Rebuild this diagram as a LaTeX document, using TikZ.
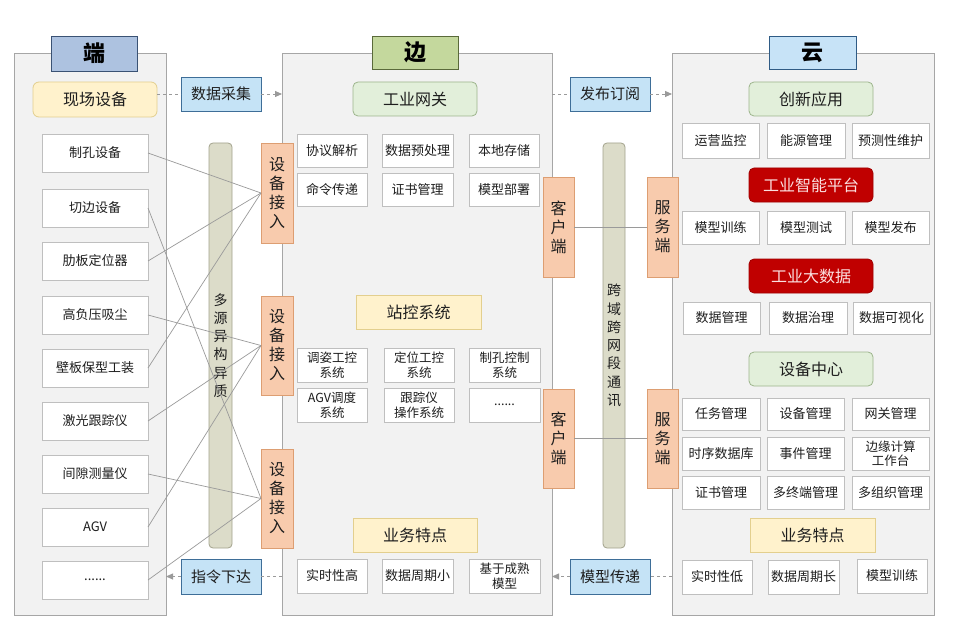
\documentclass[tikz,border=0pt]{standalone}
\usepackage{fontspec}
\setmainfont{Noto Sans CJK SC}
\usetikzlibrary{arrows.meta}
\definecolor{panelfill}{HTML}{F2F2F2}
\definecolor{paneldraw}{HTML}{A6A6A6}
\definecolor{boxdraw}{HTML}{BFBFBF}
\definecolor{txt}{HTML}{1E1E1E}
\definecolor{duanfill}{HTML}{ADC2E0}
\definecolor{duandraw}{HTML}{3A5274}
\definecolor{bianfill}{HTML}{C4D89D}
\definecolor{biandraw}{HTML}{5A6A3A}
\definecolor{yunfill}{HTML}{C7E3F7}
\definecolor{yundraw}{HTML}{2F5B85}
\definecolor{yelfill}{HTML}{FFF2CC}
\definecolor{yeldraw}{HTML}{E3CF8E}
\definecolor{grnfill}{HTML}{E2EFDA}
\definecolor{grndraw}{HTML}{9DB58C}
\definecolor{orgfill}{HTML}{F8CBAD}
\definecolor{orgdraw}{HTML}{DD9E72}
\definecolor{barfill}{HTML}{DCDCC9}
\definecolor{bardraw}{HTML}{A3A38D}
\definecolor{bluefill}{HTML}{C5E3F6}
\definecolor{bluedraw}{HTML}{3E6E98}
\definecolor{redfill}{HTML}{C00000}
\definecolor{reddraw}{HTML}{A00000}
\definecolor{redtxt}{HTML}{FBE0E0}
\definecolor{linegray}{HTML}{9A9A9A}
\newcommand\mybox[7]{\node[#6, minimum width={#4-#2}, minimum height={#5-#3}] (#1) at ({(#2+#4)/2},{(#3+#5)/2}) {#7};}
\begin{document}
\begin{tikzpicture}[x=1pt,y=-1pt,
  every node/.style={inner sep=0pt, outer sep=0pt, text=txt, align=center},
  panel/.style={draw=paneldraw, fill=panelfill, line width=0.8pt},
  titlebox/.style={line width=0.9pt, font=\fontsize{22}{24}\selectfont\bfseries, text=black},
  wbox/.style={draw=boxdraw, fill=white, line width=0.7pt, font=\fontsize{13}{15}\selectfont},
  wbox2/.style={wbox, font=\fontsize{12.5}{14.5}\selectfont},
  yelhead/.style={draw=yeldraw, fill=yelfill, line width=0.8pt, font=\fontsize{16}{18}\selectfont},
  grnhead/.style={draw=grndraw, fill=grnfill, line width=0.8pt, rounded corners=5pt, font=\fontsize{16}{18}\selectfont},
  redhead/.style={draw=reddraw, fill=redfill, line width=0.8pt, rounded corners=5pt, font=\fontsize{16}{18}\selectfont, text=redtxt},
  orgbox/.style={draw=orgdraw, fill=orgfill, line width=0.8pt, font=\fontsize{16}{19}\selectfont},
  barbox/.style={draw=bardraw, fill=barfill, line width=0.8pt, rounded corners=4pt, font=\fontsize{14}{18.3}\selectfont},
  bluebox/.style={draw=bluedraw, fill=bluefill, line width=0.8pt, font=\fontsize{15}{17}\selectfont},
  conn/.style={draw=linegray, line width=0.7pt},
  dashconn/.style={draw=linegray, line width=0.8pt, dash pattern=on 3pt off 3pt},
  dasharrow/.style={dashconn, -{Triangle[length=7pt,width=6pt,fill=linegray]}}
]
\useasboundingbox (0,0) rectangle (960,639);
\fill[white] (0,0) rectangle (960,639);

% ---------- panels ----------
\mybox{pleft}{14}{53}{166}{615}{panel}{}
\mybox{pmid}{282}{53}{552}{615}{panel}{}
\mybox{pright}{672}{53}{934}{615}{panel}{}

% ---------- titles ----------
\mybox{tleft}{51}{36}{137}{71}{titlebox, draw=duandraw, fill=duanfill}{端}
\mybox{tmid}{372}{36}{458}{69}{titlebox, draw=biandraw, fill=bianfill}{边}
\mybox{tright}{769}{36}{856}{69}{titlebox, draw=yundraw, fill=yunfill}{云}

% ---------- left column ----------
\mybox{xc}{33}{82}{157}{117}{yelhead, rounded corners=6pt}{现场设备}
\mybox{d1}{42}{134}{148}{172}{wbox}{制孔设备}
\mybox{d2}{42}{189}{148}{227}{wbox}{切边设备}
\mybox{d3}{42}{242}{148}{280}{wbox}{肋板定位器}
\mybox{d4}{42}{296}{148}{334}{wbox}{高负压吸尘}
\mybox{d5}{42}{349}{148}{387}{wbox}{壁板保型工装}
\mybox{d6}{42}{402}{148}{440}{wbox}{激光跟踪仪}
\mybox{d7}{42}{455}{148}{493}{wbox}{间隙测量仪}
\mybox{d8}{42}{508}{148}{546}{wbox}{AGV}
\mybox{d9}{42}{561}{148}{599}{wbox}{......}

\mybox{bar1}{209}{143}{232}{548}{barbox}{多\\源\\异\\构\\异\\质}
\mybox{a1}{261}{143}{293}{243}{orgbox}{设\\备\\接\\入}
\mybox{a2}{261}{296}{293}{395}{orgbox}{设\\备\\接\\入}
\mybox{a3}{261}{449}{293}{548}{orgbox}{设\\备\\接\\入}

\mybox{cj}{181}{77}{261}{111}{bluebox}{数据采集}
\mybox{zl}{181}{559}{261}{594}{bluebox}{指令下达}

% ---------- middle column ----------
\mybox{gw}{353}{82}{477}{116}{grnhead}{工业网关}
\mybox{g1}{297}{134}{367}{167}{wbox}{协议解析}
\mybox{g2}{382}{134}{453}{167}{wbox}{数据预处理}
\mybox{g3}{469}{134}{539}{167}{wbox}{本地存储}
\mybox{g4}{297}{173}{367}{206}{wbox}{命令传递}
\mybox{g5}{382}{173}{453}{206}{wbox}{证书管理}
\mybox{g6}{469}{173}{539}{206}{wbox}{模型部署}

\mybox{zk}{356}{295}{481}{329}{yelhead}{站控系统}
\mybox{s1}{297}{348}{367}{382}{wbox2}{调姿工控\\系统}
\mybox{s2}{384}{348}{454}{382}{wbox2}{定位工控\\系统}
\mybox{s3}{469}{348}{540}{382}{wbox2}{制孔控制\\系统}
\mybox{s4}{297}{388}{367}{422}{wbox2}{AGV调度\\系统}
\mybox{s5}{384}{388}{454}{422}{wbox2}{跟踪仪\\操作系统}
\mybox{s6}{469}{388}{540}{422}{wbox2}{......}

\mybox{ywm}{353}{518}{477}{552}{yelhead}{业务特点}
\mybox{b1}{297}{559}{367}{593}{wbox}{实时性高}
\mybox{b2}{382}{559}{453}{593}{wbox}{数据周期小}
\mybox{b3}{469}{559}{540}{593}{wbox2}{基于成熟\\模型}

\mybox{c1}{543}{177}{574}{277}{orgbox}{客\\户\\端}
\mybox{c2}{543}{389}{574}{488}{orgbox}{客\\户\\端}
\mybox{bar2}{603}{143}{625}{548}{barbox}{跨\\域\\跨\\网\\段\\通\\讯}
\mybox{f1}{647}{177}{678}{277}{orgbox}{服\\务\\端}
\mybox{f2}{647}{389}{678}{488}{orgbox}{服\\务\\端}

\mybox{fb}{570}{77}{650}{111}{bluebox}{发布订阅}
\mybox{mx}{570}{559}{650}{594}{bluebox}{模型传递}

% ---------- right column ----------
\mybox{cx}{749}{82}{873}{116}{grnhead}{创新应用}
\mybox{r1}{682}{123}{759}{158}{wbox}{运营监控}
\mybox{r2}{767}{123}{845}{158}{wbox}{能源管理}
\mybox{r3}{852}{123}{929}{158}{wbox}{预测性维护}
\mybox{ip}{749}{168}{873}{202}{redhead}{工业智能平台}
\mybox{r4}{682}{211}{759}{244}{wbox}{模型训练}
\mybox{r5}{767}{211}{845}{244}{wbox}{模型测试}
\mybox{r6}{852}{211}{929}{244}{wbox}{模型发布}
\mybox{bd}{749}{259}{873}{293}{redhead}{工业大数据}
\mybox{r7}{683}{302}{760}{334}{wbox}{数据管理}
\mybox{r8}{769}{302}{847}{334}{wbox}{数据治理}
\mybox{r9}{853}{302}{930}{334}{wbox}{数据可视化}
\mybox{sc}{749}{352}{873}{386}{grnhead}{设备中心}
\mybox{e1}{682}{398}{760}{430}{wbox}{任务管理}
\mybox{e2}{767}{398}{844}{430}{wbox}{设备管理}
\mybox{e3}{852}{398}{929}{430}{wbox}{网关管理}
\mybox{e4}{682}{437}{760}{470}{wbox}{时序数据库}
\mybox{e5}{767}{437}{844}{470}{wbox}{事件管理}
\mybox{e6}{852}{437}{929}{470}{wbox2}{边缘计算\\工作台}
\mybox{e7}{682}{476}{760}{509}{wbox}{证书管理}
\mybox{e8}{767}{476}{844}{509}{wbox}{多终端管理}
\mybox{e9}{852}{476}{929}{509}{wbox}{多组织管理}
\mybox{ywr}{750}{518}{875}{552}{yelhead}{业务特点}
\mybox{k1}{682}{560}{752}{594}{wbox}{实时性低}
\mybox{k2}{768}{560}{839}{594}{wbox}{数据周期长}
\mybox{k3}{857}{559}{927}{593}{wbox}{模型训练}

% ---------- device connectors ----------
\draw[conn] (d1.east) -- (a1.west);
\draw[conn] (d3.east) -- (a1.west);
\draw[conn] (d5.east) -- (a1.west);
\draw[conn] (d4.east) -- (a2.west);
\draw[conn] (d6.east) -- (a2.west);
\draw[conn] (d8.east) -- (a2.west);
\draw[conn] (d2.east) -- (a3.west);
\draw[conn] (d7.east) -- (a3.west);
\draw[conn] (d9.east) -- (a3.west);

% ---------- client / server ----------
\draw[conn] (c1.east) -- (f1.west);
\draw[conn] (c2.east) -- (f2.west);

% ---------- dashed flows ----------
\draw[dashconn] (xc.east |- cj.west) -- (cj.west);
\draw[dasharrow] (cj.east) -- (cj.east -| pmid.west);
\draw[dashconn] (fb.west -| pmid.east) -- (fb.west);
\draw[dasharrow] (fb.east) -- (fb.east -| pright.west);
\draw[dashconn] (zl.east -| pmid.west) -- (zl.east);
\draw[dasharrow] (zl.west) -- (zl.west -| pleft.east);
\draw[dashconn] (mx.east -| pright.west) -- (mx.east);
\draw[dasharrow] (mx.west) -- (mx.west -| pmid.east);
\end{tikzpicture}
\end{document}
